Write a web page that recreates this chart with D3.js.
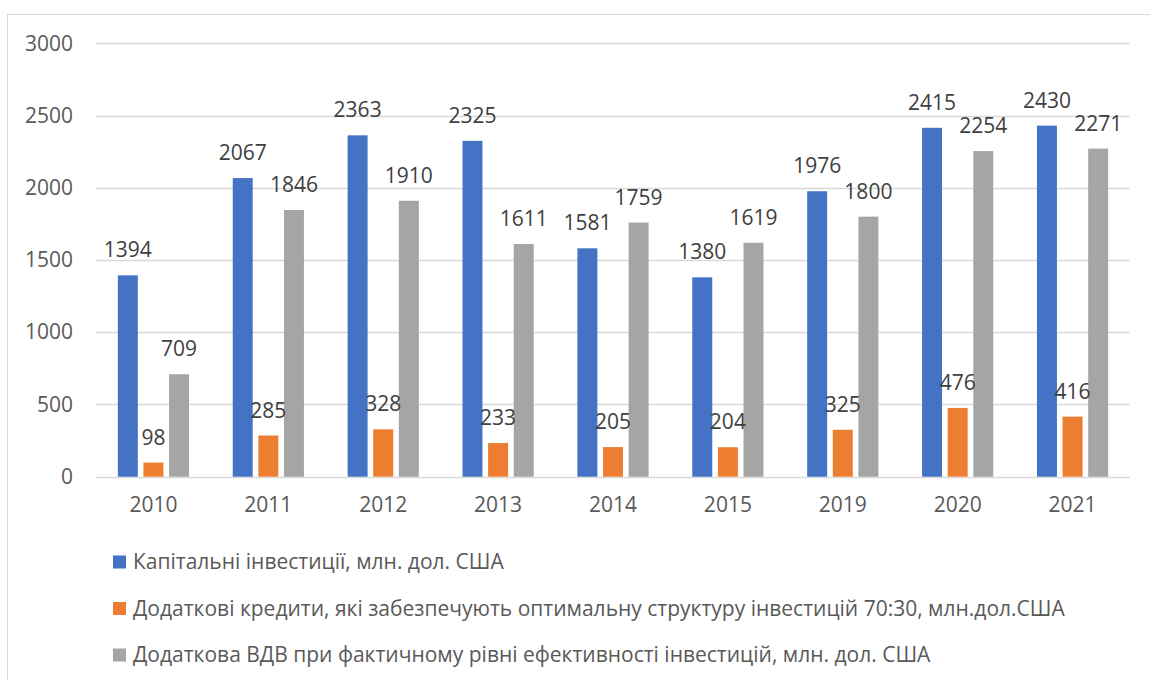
<!DOCTYPE html>
<html>
<head>
<meta charset="utf-8">
<script src="https://cdn.jsdelivr.net/npm/d3@7"></script>
<style>
  body { margin: 0; background: #fff; }
  text { font-family: "Open Sans", sans-serif; }
</style>
</head>
<body>
<div id="chart"></div>
<script>
var years = ["2010", "2011", "2012", "2013", "2014", "2015", "2019", "2020", "2021"];
var seriesNames = [
  "Капітальні інвестиції, млн. дол. США",
  "Додаткові кредити, які забезпечують оптимальну структуру інвестицій 70:30, млн.дол.США",
  "Додаткова ВДВ при фактичному рівні ефективності інвестицій, млн. дол. США"
];
var capital = [1394, 2067, 2363, 2325, 1581, 1380, 1976, 2415, 2430];
var credits = [98, 285, 328, 233, 205, 204, 325, 476, 416];
var gva = [709, 1846, 1910, 1611, 1759, 1619, 1800, 2254, 2271];
var yTicks = [0, 500, 1000, 1500, 2000, 2500, 3000];
var colors = ["#4472C4", "#ED7D31", "#A5A5A5"];

var seriesValues = [capital, credits, gva];

const svg = d3.select("#chart")
  .append("svg")
  .attr("width", 1150)
  .attr("height", 680);

// outer frame of the chart area
svg.append("rect")
  .attr("x", 7.5)
  .attr("y", 14.5)
  .attr("width", 1160)
  .attr("height", 700)
  .attr("fill", "none")
  .attr("stroke", "#d9d9d9");

const x0 = d3.scaleBand().domain(years).range([96, 1130]);
const groupWidth = 71.2;
const x1 = d3.scaleBand()
  .domain(d3.range(3))
  .range([0, groupWidth])
  .paddingInner(0.22)
  .paddingOuter(0);
const y = d3.scaleLinear().domain([0, 3000]).range([476.7, 43.3]);

// gridlines + y labels
const yAxis = d3.axisLeft(y)
  .tickValues(yTicks)
  .tickFormat(d3.format("d"))
  .tickSize(0)
  .tickPadding(23);

const yg = svg.append("g")
  .attr("transform", "translate(96,0)")
  .call(yAxis);
yg.select(".domain").remove();
yg.selectAll("text")
  .attr("fill", "#595959")
  .style("font-size", "21px");

svg.append("g").selectAll("line")
  .data(yTicks)
  .enter().append("line")
  .attr("x1", 96)
  .attr("x2", 1130)
  .attr("y1", d => Math.round(y(d)) + 0.5)
  .attr("y2", d => Math.round(y(d)) + 0.5)
  .attr("stroke", "#d9d9d9")
  .attr("stroke-width", 1.3);

// bars
const groups = svg.append("g").selectAll("g")
  .data(years)
  .enter().append("g")
  .attr("transform", d => `translate(${x0(d) + (x0.bandwidth() - groupWidth) / 2},0)`);

groups.selectAll("rect")
  .data((d, i) => seriesValues.map((s, k) => ({ k: k, v: s[i] })))
  .enter().append("rect")
  .attr("x", d => x1(d.k))
  .attr("width", x1.bandwidth())
  .attr("y", d => y(d.v))
  .attr("height", d => y(0) - y(d.v))
  .attr("fill", d => colors[d.k]);

groups.selectAll("text")
  .data((d, i) => seriesValues.map((s, k) => ({ k: k, v: s[i] })))
  .enter().append("text")
  .attr("x", d => x1(d.k) + x1.bandwidth() / 2)
  .attr("y", d => y(d.v) - 18)
  .attr("text-anchor", "middle")
  .attr("fill", "#404040")
  .style("font-size", "21px")
  .text(d => d.v);

// x axis labels
const xAxis = d3.axisBottom(x0).tickSize(0).tickPadding(20);
const xg = svg.append("g")
  .attr("transform", "translate(0,476.7)")
  .call(xAxis);
xg.select(".domain").remove();
xg.selectAll("text")
  .attr("fill", "#595959")
  .style("font-size", "21px");

// legend
const legend = svg.append("g").selectAll("g")
  .data(seriesNames)
  .enter().append("g")
  .attr("transform", (d, i) => `translate(113,${562 + i * 46.5})`);

legend.append("rect")
  .attr("x", 0)
  .attr("y", -6.5)
  .attr("width", 13)
  .attr("height", 13)
  .attr("fill", (d, i) => colors[i]);

legend.append("text")
  .attr("x", 20)
  .attr("y", 0)
  .attr("dy", "0.35em")
  .attr("fill", "#595959")
  .style("font-size", "21px")
  .text(d => d);
</script>
</body>
</html>
